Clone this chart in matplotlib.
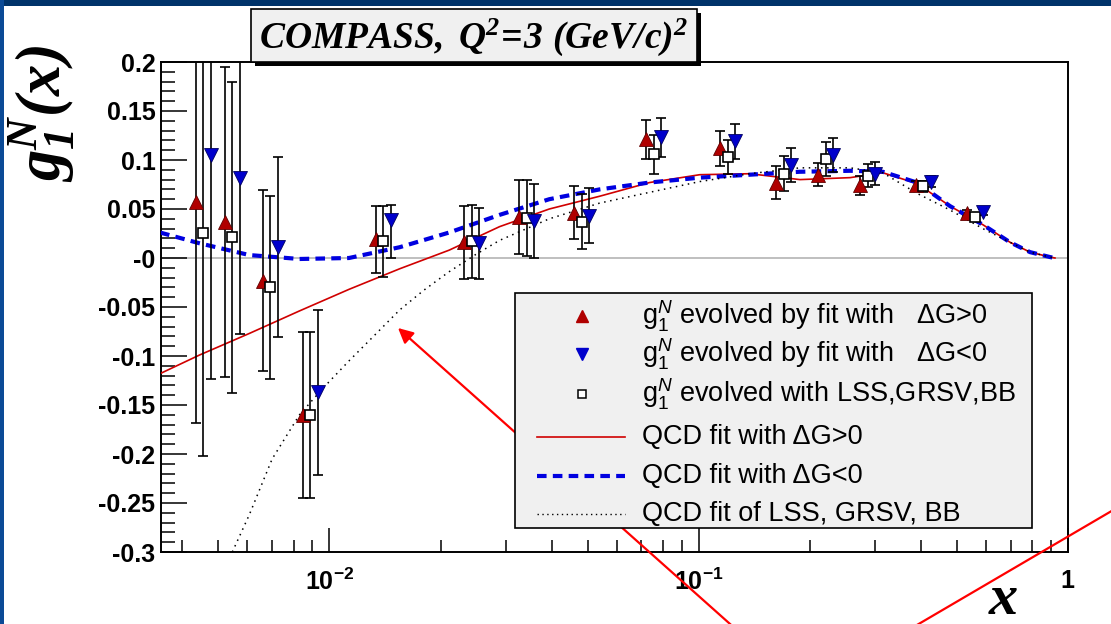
import matplotlib
matplotlib.use("Agg")
import matplotlib.pyplot as plt
import numpy as np
from matplotlib.lines import Line2D
from matplotlib.patches import Rectangle
from matplotlib.ticker import FixedLocator, MultipleLocator, NullFormatter, LogLocator

plt.rcParams['mathtext.fontset'] = 'custom'
plt.rcParams['mathtext.rm'] = 'Liberation Sans'
plt.rcParams['mathtext.it'] = 'Liberation Sans:italic'
plt.rcParams['mathtext.bf'] = 'Liberation Sans:bold'
plt.rcParams['mathtext.bfit'] = 'Liberation Serif:italic:bold'
plt.rcParams['font.family'] = ['Liberation Sans', 'DejaVu Sans']

# ---------------- data ----------------
x_bins = [0.00456, 0.00546, 0.00692, 0.00888, 0.0140, 0.0243, 0.0342, 0.0482,
          0.0755, 0.120, 0.170, 0.221, 0.287, 0.405, 0.560]

g1_pos = [0.057, 0.037, -0.023, -0.160, 0.019, 0.016, 0.042, 0.046,
          0.121, 0.112, 0.077, 0.085, 0.074, 0.074, 0.046]
err_pos = [0.225, 0.158, 0.092, 0.085, 0.034, 0.037, 0.038, 0.027,
           0.020, 0.018, 0.017, 0.012, 0.010, 0.005, 0.003]

g1_neg = [0.105, 0.082, 0.011, -0.137, 0.039, 0.015, 0.038, 0.043,
          0.123, 0.119, 0.095, 0.105, 0.086, 0.078, 0.047]
err_neg_lo = [0.228, 0.160, 0.092, 0.084, 0.039, 0.036, 0.038, 0.028,
              0.020, 0.018, 0.017, 0.017, 0.012, 0.006, 0.003]
err_neg_hi = [0.228, 0.160, 0.092, 0.084, 0.015, 0.036, 0.038, 0.028,
              0.020, 0.018, 0.017, 0.017, 0.012, 0.006, 0.003]

g1_lss = [0.026, 0.021, -0.030, -0.160, 0.017, 0.017, 0.041, 0.037,
          0.106, 0.103, 0.086, 0.101, 0.084, 0.073, 0.042]
err_lss = [0.228, 0.159, 0.093, 0.085, 0.036, 0.037, 0.039, 0.028,
           0.020, 0.017, 0.018, 0.017, 0.012, 0.006, 0.003]

# QCD fit curves
x_fit = [0.00348, 0.00445, 0.00607, 0.00830, 0.0113, 0.0155, 0.0211, 0.0289,
         0.0394, 0.0539, 0.0736, 0.1007, 0.1375, 0.188, 0.257, 0.315, 0.390,
         0.479, 0.588, 0.697, 0.789, 0.893, 0.922]
fit_pos = [-0.118, -0.099, -0.077, -0.054, -0.032, -0.011, 0.008, 0.032,
           0.050, 0.063, 0.077, 0.085, 0.086, 0.080, 0.082, 0.087, 0.076,
           0.053, 0.034, 0.016, 0.006, 0.001, 0.0]
fit_neg = [0.026, 0.015, 0.003, -0.001, 0.000, 0.011, 0.026, 0.044,
           0.060, 0.070, 0.077, 0.082, 0.085, 0.088, 0.089, 0.088, 0.077,
           0.053, 0.034, 0.016, 0.006, 0.001, 0.0]
x_lss = [0.00546, 0.00607, 0.00700, 0.00830, 0.0096, 0.0113, 0.0130, 0.0155,
         0.0180, 0.0211, 0.0250, 0.0289, 0.0394, 0.0539, 0.0736, 0.1007,
         0.1375, 0.188, 0.257, 0.315, 0.390, 0.479, 0.588, 0.697, 0.789,
         0.893, 0.922]
fit_lss = [-0.300, -0.262, -0.205, -0.160, -0.133, -0.105, -0.082, -0.053,
           -0.033, -0.014, 0.004, 0.018, 0.040, 0.056, 0.067, 0.078,
           0.086, 0.092, 0.092, 0.087, 0.066, 0.049, 0.030, 0.016, 0.006,
           0.001, 0.0]

ytick_vals = [-0.3, -0.25, -0.2, -0.15, -0.1, -0.05, 0.0, 0.05, 0.1, 0.15, 0.2]
ytick_labels = ['-0.3', '-0.25', '-0.2', '-0.15', '-0.1', '-0.05', '-0',
                '0.05', '0.1', '0.15', '0.2']
xtick_vals = [0.01, 0.1, 1.0]
xtick_labels = [r'$\mathbf{10^{-2}}$', r'$\mathbf{10^{-1}}$', r'$\mathbf{1}$']

legend_labels = [r'$\mathrm{g}_{1}^{N}$ evolved by fit with   ΔG>0',
                 r'$\mathrm{g}_{1}^{N}$ evolved by fit with   ΔG<0',
                 r'$\mathrm{g}_{1}^{N}$ evolved with LSS,GRSV,BB',
                 'QCD fit with ΔG>0',
                 'QCD fit with ΔG<0',
                 'QCD fit of LSS, GRSV, BB']

# ---------------- figure ----------------
W, H = 1111, 624
def fx(px):
    return px / W
def fy(py):
    return 1 - py / H

fig = plt.figure(figsize=(W / 100, H / 100), dpi=100)
fig.patch.set_facecolor('white')

ax = fig.add_axes([fx(161), fy(552), fx(1068) - fx(161), fy(62) - fy(552)])
ax.set_xscale('log')
ax.set_xlim(0.0035, 1.0)
ax.set_ylim(-0.3, 0.2)

RED_M = '#b00000'
BLUE_M = '#0000cc'
shift = 1.048

ax.axhline(0, color='#b4b4b4', lw=1.2, zorder=1)

ax.plot(x_fit, fit_pos, color='#d00000', lw=1.2, zorder=3)
ax.plot(x_fit, fit_neg, color='#0000e0', lw=3.0, linestyle=(0, (2.3, 1.5)), zorder=3)
ax.plot(x_lss, fit_lss, color='black', lw=1.1, linestyle=(0, (1, 3)), zorder=3)

xb = np.array(x_bins)
eb_kw = dict(fmt='none', ecolor='black', elinewidth=1.2, capsize=3.3, capthick=1.2, zorder=4)
ax.errorbar(xb / shift, g1_pos, yerr=err_pos, **eb_kw)
ax.errorbar(xb, g1_lss, yerr=err_lss, **eb_kw)
ax.errorbar(xb * shift, g1_neg, yerr=[err_neg_lo, err_neg_hi], **eb_kw)

ax.plot(xb / shift, g1_pos, linestyle='none', marker='^', ms=10, mfc=RED_M,
        mec='#600000', mew=0.6, zorder=5)
ax.plot(xb, g1_lss, linestyle='none', marker='s', ms=7.5, mfc='white',
        mec='black', mew=1.2, zorder=5)
ax.plot(xb * shift, g1_neg, linestyle='none', marker='v', ms=10, mfc=BLUE_M,
        mec='#000060', mew=0.6, zorder=5)

# axes styling
for side in ['left', 'bottom', 'top', 'right']:
    ax.spines[side].set_linewidth(1.4)
ax.yaxis.set_major_locator(FixedLocator(ytick_vals))
ax.set_yticklabels(ytick_labels)
ax.yaxis.set_minor_locator(MultipleLocator(0.01))
ax.xaxis.set_major_locator(FixedLocator(xtick_vals))
ax.set_xticklabels(xtick_labels)
ax.xaxis.set_minor_locator(LogLocator(base=10, subs=np.arange(2, 10)))
ax.xaxis.set_minor_formatter(NullFormatter())
ax.tick_params(axis='y', which='major', direction='in', length=18.5, width=1.1,
               pad=4, labelsize=18)
ax.tick_params(axis='y', which='minor', direction='in', length=10, width=1.1)
ax.tick_params(axis='x', which='major', direction='in', length=17, width=1.1,
               pad=12, labelsize=18)
ax.tick_params(axis='x', which='minor', direction='in', length=8.6, width=1.1)
for lab in ax.get_yticklabels() + ax.get_xticklabels():
    lab.set_fontweight('bold')

# slide border
fig.add_artist(Rectangle((0, fy(6)), 1, 1 - fy(6), transform=fig.transFigure,
                         facecolor='#00336a', edgecolor='none', zorder=20))
fig.add_artist(Rectangle((0, 0), fx(4), 1, transform=fig.transFigure,
                         facecolor='#0b4a96', edgecolor='none', zorder=20))

# title box with shadow
fig.add_artist(Rectangle((fx(255), fy(66)), fx(701) - fx(255), fy(13) - fy(66),
                         transform=fig.transFigure, facecolor='black',
                         edgecolor='none', zorder=10))
fig.add_artist(Rectangle((fx(251), fy(62)), fx(697) - fx(251), fy(9) - fy(62),
                         transform=fig.transFigure, facecolor='#f0f0f0',
                         edgecolor='black', lw=1.2, zorder=11))
fig.text(fx(474), fy(37), r'$\mathbfit{COMPASS,\;Q^{2}\!=\!3\ (GeV/c)^{2}}$',
         ha='center', va='center', fontsize=27, zorder=12)

# axis labels
fig.text(fx(42), fy(114), r'$\mathbfit{g_{1}^{N}(x)}$', rotation=90,
         ha='center', va='center', fontsize=45, zorder=12)
fig.text(fx(1003), fy(600), 'x', family='Liberation Serif', style='italic',
         weight='bold', ha='center', va='center', fontsize=42, zorder=12)

# legend
fig.add_artist(Rectangle((fx(515), fy(528)), fx(1032) - fx(515), fy(293) - fy(528),
                         transform=fig.transFigure, facecolor='#f0f0f0',
                         edgecolor='black', lw=1.2, zorder=13))
rows = [316, 354, 394, 437, 476, 514]
fig.add_artist(Line2D([fx(582)], [fy(rows[0])], marker='^', ms=8, mfc=RED_M,
                      mec=RED_M, linestyle='none', transform=fig.transFigure, zorder=14))
fig.add_artist(Line2D([fx(582)], [fy(rows[1])], marker='v', ms=8, mfc=BLUE_M,
                      mec=BLUE_M, linestyle='none', transform=fig.transFigure, zorder=14))
fig.add_artist(Line2D([fx(582)], [fy(rows[2])], marker='s', ms=6, mfc='white',
                      mec='black', mew=1.1, linestyle='none', transform=fig.transFigure, zorder=14))
fig.add_artist(Line2D([fx(537), fx(625)], [fy(rows[3])] * 2, color='#d00000', lw=1.2,
                      transform=fig.transFigure, zorder=14))
fig.add_artist(Line2D([fx(537), fx(625)], [fy(rows[4])] * 2, color='#0000e0', lw=3.0,
                      linestyle=(0, (2.3, 1.5)), transform=fig.transFigure, zorder=14))
fig.add_artist(Line2D([fx(537), fx(625)], [fy(rows[5])] * 2, color='black', lw=1.0,
                      linestyle=(0, (1, 2.5)), transform=fig.transFigure, zorder=14))
for r, lab in zip(rows, legend_labels):
    fig.text(fx(642), fy(r), lab, ha='left', va='center', fontsize=19.5, zorder=15)

# red annotation lines (slide overlay)
ax.annotate('', xy=(fx(398), fy(328)), xytext=(fx(748), fy(640)),
            xycoords='figure fraction', textcoords='figure fraction',
            arrowprops=dict(arrowstyle='-|>,head_length=0.9,head_width=0.45',
                            color='#ff0000', lw=1.6, shrinkA=0, shrinkB=0),
            annotation_clip=False, zorder=30)
fig.add_artist(Line2D([fx(905), fx(1115)], [fy(632), fy(509)], color='#ff0000', lw=1.6,
                      transform=fig.transFigure, zorder=30))

fig.savefig('out.png', dpi=100)
